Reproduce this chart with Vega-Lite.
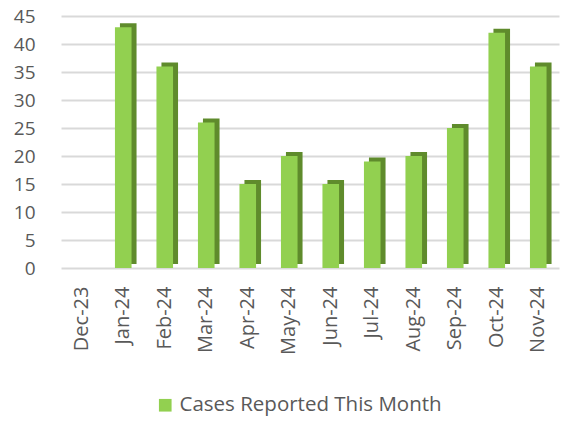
{
  "$schema": "https://vega.github.io/schema/vega-lite/v6.json",
  "width": 498,
  "height": 252,
  "autosize": "none",
  "padding": {"left": 61, "top": 16, "right": 7, "bottom": 156},
  "background": "white",
  "config": {
    "view": {"stroke": null},
    "font": "Open Sans"
  },
  "data": {
    "values": [
      {"month": "Dec-23", "cases": 0, "series": "Cases Reported This Month"},
      {"month": "Jan-24", "cases": 43, "series": "Cases Reported This Month"},
      {"month": "Feb-24", "cases": 36, "series": "Cases Reported This Month"},
      {"month": "Mar-24", "cases": 26, "series": "Cases Reported This Month"},
      {"month": "Apr-24", "cases": 15, "series": "Cases Reported This Month"},
      {"month": "May-24", "cases": 20, "series": "Cases Reported This Month"},
      {"month": "Jun-24", "cases": 15, "series": "Cases Reported This Month"},
      {"month": "Jul-24", "cases": 19, "series": "Cases Reported This Month"},
      {"month": "Aug-24", "cases": 20, "series": "Cases Reported This Month"},
      {"month": "Sep-24", "cases": 25, "series": "Cases Reported This Month"},
      {"month": "Oct-24", "cases": 42, "series": "Cases Reported This Month"},
      {"month": "Nov-24", "cases": 36, "series": "Cases Reported This Month"}
    ]
  },
  "encoding": {
    "x": {
      "field": "month",
      "type": "nominal",
      "sort": null,
      "scale": {"paddingInner": 0.6, "paddingOuter": 0.3},
      "axis": {
        "title": null,
        "labelAngle": 270,
        "labelAlign": "right",
        "labelBaseline": "middle",
        "labelFontSize": 20,
        "labelColor": "#595959",
        "labelPadding": 18,
        "ticks": false,
        "domain": false
      }
    },
    "y": {
      "field": "cases",
      "type": "quantitative",
      "scale": {"domain": [0, 45]},
      "axis": {
        "title": null,
        "values": [0, 5, 10, 15, 20, 25, 30, 35, 40, 45],
        "labelFontSize": 19,
        "labelColor": "#595959",
        "labelPadding": 26,
        "ticks": false,
        "domain": false,
        "gridColor": "#d9d9d9",
        "gridWidth": 2
      }
    }
  },
  "layer": [
    {
      "mark": {"type": "bar", "color": "#5f8b2c", "xOffset": 5, "yOffset": -4},
      "encoding": {}
    },
    {
      "mark": {"type": "bar"},
      "encoding": {
        "color": {
          "field": "series",
          "type": "nominal",
          "scale": {"range": ["#92d050"]},
          "legend": {
            "title": null,
            "orient": "none",
            "legendX": 94,
            "legendY": 379,
            "symbolType": "square",
            "symbolSize": 160,
            "labelFontSize": 20.5,
            "labelLimit": 400,
            "labelColor": "#595959"
          }
        }
      }
    }
  ]
}
